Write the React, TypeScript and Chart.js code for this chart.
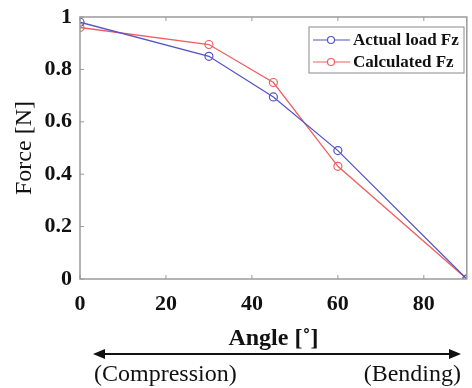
import React, { useEffect, useRef } from "react";
import { Chart, registerables } from "chart.js";

Chart.register(...registerables);

const angles = [0, 30, 45, 60, 90];
const actualLoad = [0.98, 0.85, 0.695, 0.49, 0];
const calculated = [0.96, 0.895, 0.75, 0.43, 0];
const seriesLabels = ["Actual load Fz", "Calculated Fz"];
const xTicks = [0, 20, 40, 60, 80];
const yTicks = [0, 0.2, 0.4, 0.6, 0.8, 1];

const BLUE = "rgb(85,85,200)";
const RED = "rgb(240,95,95)";
const SERIF = "'Liberation Serif', 'Times New Roman', serif";

const framePlugin = {
  id: "frame",
  afterDraw(chart: any) {
    const ctx = chart.ctx;
    const { left, right, top, bottom } = chart.chartArea;
    const xs = chart.scales.x;
    const ys = chart.scales.y;
    ctx.save();
    ctx.strokeStyle = "#9a9a9a";
    ctx.lineWidth = 1.5;
    ctx.strokeRect(left, top, right - left, bottom - top);
    ctx.lineWidth = 1;
    xTicks.forEach((v) => {
      const px = xs.getPixelForValue(v);
      ctx.beginPath();
      ctx.moveTo(px, bottom);
      ctx.lineTo(px, bottom - 4);
      ctx.moveTo(px, top);
      ctx.lineTo(px, top + 4);
      ctx.stroke();
    });
    yTicks.forEach((v) => {
      const py = ys.getPixelForValue(v);
      ctx.beginPath();
      ctx.moveTo(left, py);
      ctx.lineTo(left + 4, py);
      ctx.stroke();
    });

    // legend
    const lx = 309, ly = 27, lw = 155, lh = 46;
    ctx.fillStyle = "#fff";
    ctx.fillRect(lx, ly, lw, lh);
    ctx.strokeStyle = "#8a8a8a";
    ctx.lineWidth = 1;
    ctx.strokeRect(lx, ly, lw, lh);
    const colors = [BLUE, RED];
    seriesLabels.forEach((lab, i) => {
      const y = ly + 13 + i * 22;
      ctx.strokeStyle = colors[i];
      ctx.lineWidth = 1.2;
      ctx.beginPath();
      ctx.moveTo(lx + 4, y);
      ctx.lineTo(lx + 41, y);
      ctx.stroke();
      ctx.fillStyle = "#fff";
      ctx.beginPath();
      ctx.arc(lx + 22, y, 3.5, 0, Math.PI * 2);
      ctx.fill();
      ctx.stroke();
      ctx.fillStyle = "#111";
      ctx.font = "bold 17px " + SERIF;
      ctx.textAlign = "left";
      ctx.textBaseline = "middle";
      ctx.fillText(lab, lx + 44, y + 1);
    });

    // arrow and annotations
    const ay = 354, ax1 = 93, ax2 = 461;
    ctx.strokeStyle = "#111";
    ctx.fillStyle = "#111";
    ctx.lineWidth = 2;
    ctx.beginPath();
    ctx.moveTo(ax1 + 6, ay);
    ctx.lineTo(ax2 - 6, ay);
    ctx.stroke();
    ctx.beginPath();
    ctx.moveTo(ax1, ay);
    ctx.lineTo(ax1 + 12, ay - 5);
    ctx.lineTo(ax1 + 12, ay + 5);
    ctx.closePath();
    ctx.fill();
    ctx.beginPath();
    ctx.moveTo(ax2, ay);
    ctx.lineTo(ax2 - 12, ay - 5);
    ctx.lineTo(ax2 - 12, ay + 5);
    ctx.closePath();
    ctx.fill();
    ctx.font = "24px " + SERIF;
    ctx.textBaseline = "alphabetic";
    ctx.textAlign = "left";
    ctx.fillText("(Compression)", 94, 381);
    ctx.textAlign = "right";
    ctx.fillText("(Bending)", 461, 381);
    ctx.restore();
  },
};

export default function App() {
  const ref = useRef<HTMLCanvasElement>(null);
  useEffect(() => {
    document.body.style.margin = "0";
    const chart = new Chart(ref.current!, {
      type: "line",
      data: {
        datasets: [
          {
            label: seriesLabels[0],
            data: angles.map((a, i) => ({ x: a, y: actualLoad[i] })),
            borderColor: BLUE,
            backgroundColor: "rgba(255,255,255,0)",
            borderWidth: 1.3,
            pointRadius: 4,
            pointBorderWidth: 1.2,
            pointBorderColor: BLUE,
            pointBackgroundColor: "rgba(255,255,255,0)",
          },
          {
            label: seriesLabels[1],
            data: angles.map((a, i) => ({ x: a, y: calculated[i] })),
            borderColor: RED,
            backgroundColor: "rgba(255,255,255,0)",
            borderWidth: 1.3,
            pointRadius: 4,
            pointBorderWidth: 1.2,
            pointBorderColor: RED,
            pointBackgroundColor: "rgba(255,255,255,0)",
          },
        ],
      },
      options: {
        animation: false,
        responsive: false,
        layout: { padding: { left: 0, right: 1, top: 17, bottom: 35 } },
        plugins: { legend: { display: false }, tooltip: { enabled: false } },
        scales: {
          x: {
            type: "linear",
            min: 0,
            max: 90,
            afterBuildTicks: (s: any) => {
              s.ticks = xTicks.map((v) => ({ value: v }));
            },
            afterFit: (s: any) => {
              s.height = 74;
              s.paddingLeft = 0;
              s.paddingRight = 0;
            },
            grid: { display: false, drawTicks: false },
            border: { display: false },
            ticks: {
              color: "#111",
              font: { family: SERIF, size: 22, weight: "bold" },
              padding: 12,
              maxRotation: 0,
            },
            title: {
              display: true,
              text: "Angle [˚]",
              color: "#111",
              font: { family: SERIF, size: 24, weight: "bold" },
              padding: { top: 2, bottom: 0 },
            },
          },
          y: {
            type: "linear",
            min: 0,
            max: 1,
            afterBuildTicks: (s: any) => {
              s.ticks = yTicks.map((v) => ({ value: v }));
            },
            afterFit: (s: any) => {
              s.width = 80;
              s.paddingTop = 0;
              s.paddingBottom = 0;
            },
            grid: { display: false, drawTicks: false },
            border: { display: false },
            ticks: {
              color: "#111",
              font: { family: SERIF, size: 22, weight: "bold" },
              padding: 8,
              callback: (v: any) => String(v),
            },
            title: {
              display: true,
              text: "Force [N]",
              color: "#111",
              font: { family: SERIF, size: 24 },
              padding: { top: 10, bottom: 0 },
            },
          },
        },
      },
      plugins: [framePlugin],
    } as any);
    return () => chart.destroy();
  }, []);
  return (
    <div style={{ position: "absolute", left: 0, top: 0, width: 472, height: 388, background: "#fff" }}>
      <canvas ref={ref} width={472} height={388} style={{ display: "block", width: 472, height: 388 }} />
    </div>
  );
}
